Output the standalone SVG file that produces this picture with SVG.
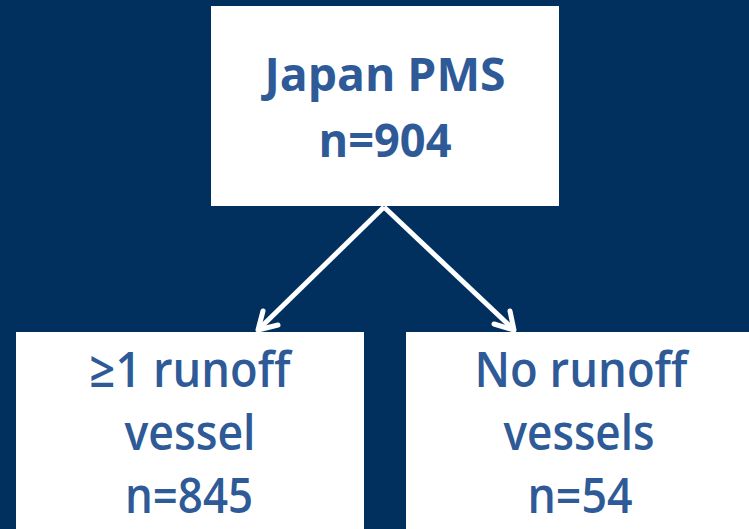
<svg xmlns="http://www.w3.org/2000/svg" width="749" height="529" viewBox="0 0 749 529">
<style>
.box{fill:#ffffff;}
.t{fill:#2E5A97;font-family:"Open Sans","Noto Sans",sans-serif;font-weight:700;text-anchor:middle;}
.top{font-size:47px;}
.bot{font-size:49px;font-weight:600;}
.conn{stroke:#ffffff;stroke-width:5;fill:none;}
.head{stroke:#ffffff;stroke-width:5;fill:none;stroke-linecap:round;stroke-linejoin:round;}
</style>
<rect x="0" y="0" width="749" height="529" fill="#01305F"/>
<g id="node-top">
<rect class="box" x="211" y="6" width="348" height="200"/>
<text class="t top" x="385" y="91" textLength="241" lengthAdjust="spacingAndGlyphs">Japan PMS</text>
<text class="t top" x="385" y="157" textLength="133" lengthAdjust="spacingAndGlyphs">n=904</text>
</g>
<g id="node-left">
<rect class="box" x="16" y="332" width="348" height="200"/>
<text class="t bot" x="190" y="387" textLength="201" lengthAdjust="spacingAndGlyphs">≥1 runoff</text>
<text class="t bot" x="190" y="450" textLength="131" lengthAdjust="spacingAndGlyphs">vessel</text>
<text class="t bot" x="189" y="513" textLength="128" lengthAdjust="spacingAndGlyphs">n=845</text>
</g>
<g id="node-right">
<rect class="box" x="406" y="332" width="350" height="200"/>
<text class="t bot" x="581" y="387" textLength="213" lengthAdjust="spacingAndGlyphs">No runoff</text>
<text class="t bot" x="579" y="450" textLength="151" lengthAdjust="spacingAndGlyphs">vessels</text>
<text class="t bot" x="580" y="513" textLength="105" lengthAdjust="spacingAndGlyphs">n=54</text>
</g>
<g id="connectors">
<line class="conn" x1="384" y1="207" x2="259" y2="329"/>
<polyline class="head" points="263,311 258,330 278,325"/>
<line class="conn" x1="384" y1="207" x2="513" y2="329"/>
<polyline class="head" points="494,324 514,330 510,311"/>
</g>
</svg>
